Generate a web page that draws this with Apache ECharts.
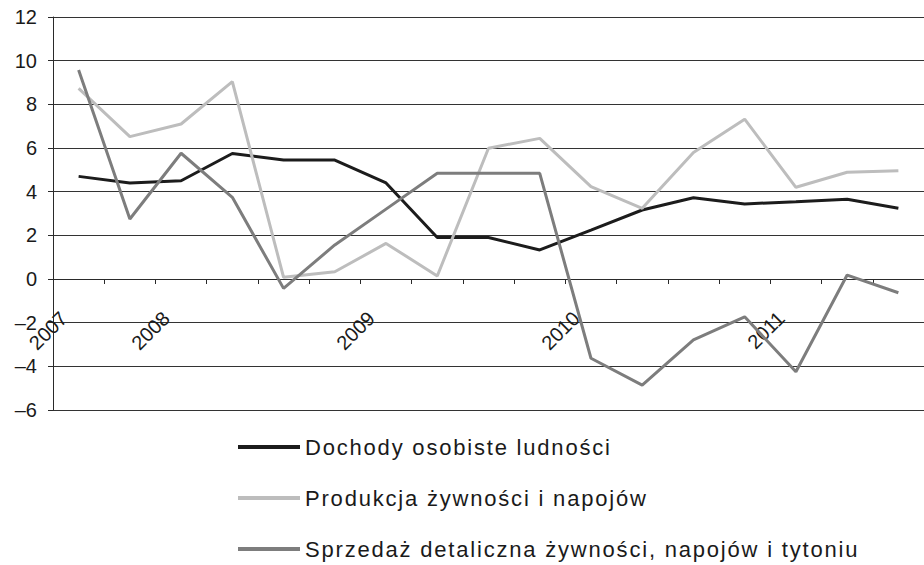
<!DOCTYPE html>
<html>
<head>
<meta charset="utf-8">
<script src="https://cdn.jsdelivr.net/npm/echarts@6/dist/echarts.min.js"></script>
<style>
html,body{margin:0;padding:0;background:#fff;}
#chart{width:924px;height:565px;}
</style>
</head>
<body>
<div id="chart"></div>
<script>
// Category tick labels (quarters, year shown at first quarter)
var categories = ['2007', '', '2008', '', '', '', '2009', '', '', '', '2010', '', '', '', '2011', '', ''];
var seriesNames = ['Dochody osobiste ludności', 'Produkcja żywności i napojów', 'Sprzedaż detaliczna żywności, napojów i tytoniu'];
var income = [4.7, 4.4, 4.5, 5.75, 5.45, 5.45, 4.4, 1.9, 1.9, 1.33, 2.24, 3.16, 3.72, 3.44, 3.54, 3.65, 3.24];
var food = [8.73, 6.52, 7.1, 9.04, 0.08, 0.33, 1.63, 0.14, 5.99, 6.44, 4.23, 3.24, 5.79, 7.32, 4.2, 4.89, 4.96];
var sales = [9.57, 2.75, 5.76, 3.74, -0.43, 1.56, 3.2, 4.84, 4.84, 4.84, -3.63, -4.86, -2.79, -1.73, -4.25, 0.18, -0.63];
var yMin = -6, yMax = 12, yStep = 2;

var FONT = '"Liberation Sans", Arial, sans-serif';
var colors = ['#1c1c1c', '#bdbdbd', '#7d7d7d'];
var values = [income, food, sales];

var gridTop = 17, gridBottom = 155, chartH = 565;
var plotH = chartH - gridTop - gridBottom;
// shift the category axis from the grid bottom up to the zero line
var zeroOffset = -plotH * (0 - yMin) / (yMax - yMin);

var chart = echarts.init(document.getElementById('chart'), null, {renderer: 'svg'});
var option = {
  animation: false,
  backgroundColor: '#fff',
  color: colors,
  grid: {left: 53, right: -12, top: gridTop, bottom: gridBottom, containLabel: false},
  legend: {
    orient: 'vertical',
    left: 238,
    top: 436,
    padding: 0,
    itemWidth: 62,
    itemHeight: 4,
    itemGap: 29,
    icon: 'rect',
    data: seriesNames,
    textStyle: {fontFamily: FONT, fontSize: 22, color: '#1a1a1a'}
  },
  xAxis: {
    type: 'category',
    data: categories,
    boundaryGap: true,
    offset: zeroOffset,
    axisLine: {onZero: false, lineStyle: {color: '#2a2a2a', width: 1}},
    axisTick: {show: true, length: 5, interval: 0, lineStyle: {color: '#2a2a2a'}},
    axisLabel: {
      interval: 0, rotate: 45, margin: 21,
      padding: [0, 21, 0, 0],
      fontFamily: FONT, fontSize: 20, color: '#1a1a1a'
    },
    splitLine: {show: false}
  },
  yAxis: {
    type: 'value',
    min: yMin, max: yMax, interval: yStep,
    axisLine: {show: true, lineStyle: {color: '#2a2a2a', width: 1}},
    axisTick: {show: true, length: 5, lineStyle: {color: '#2a2a2a'}},
    axisLabel: {
      margin: 16,
      padding: [10, 0, 0, 0],
      fontFamily: FONT, fontSize: 20, color: '#1a1a1a',
      formatter: function (v) { return v < 0 ? '\u2013' + Math.abs(v) : String(v); }
    },
    splitLine: {show: true, lineStyle: {color: '#333', width: 1}}
  },
  series: seriesNames.map(function (name, i) {
    return {
      name: name,
      type: 'line',
      data: values[i],
      showSymbol: false,
      symbol: 'none',
      lineStyle: {width: 3, color: colors[i]},
      itemStyle: {color: colors[i]},
      z: 2 + i
    };
  })
};
chart.setOption(option);

function spaceLegend() {
  var texts = document.querySelectorAll('#chart svg text');
  texts.forEach(function (t) {
    if (seriesNames.indexOf(t.textContent) >= 0) {
      t.setAttribute('letter-spacing', '1.8px');
    }
  });
}
spaceLegend();
chart.on('finished', spaceLegend);
setTimeout(spaceLegend, 50);
</script>
</body>
</html>
